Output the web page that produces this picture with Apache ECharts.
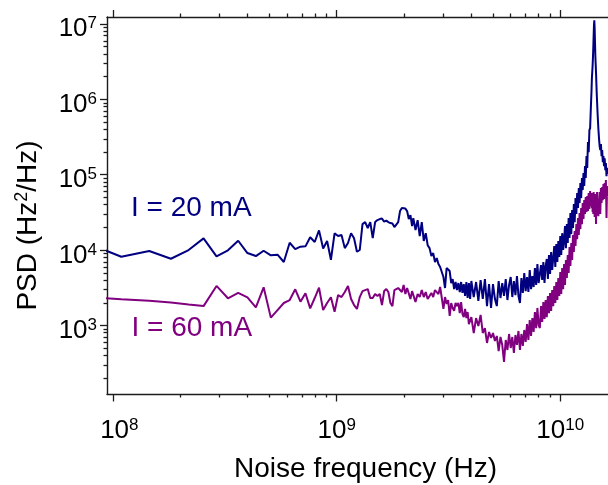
<!DOCTYPE html>
<html>
<head>
<meta charset="utf-8">
<script src="https://cdn.jsdelivr.net/npm/echarts@6/dist/echarts.min.js"></script>
<style>
html,body{margin:0;padding:0;background:#ffffff;}
#chart{width:608px;height:485px;}
</style>
</head>
<body>
<div id="chart"></div>
<script>
// ---------------- data ----------------
// noise frequency, GHz
const freqGHz = [
  0.0724, 0.1086, 0.1448, 0.181, 0.2172, 0.2534, 0.2896, 0.3258, 0.362, 0.3982,
  0.4344, 0.4706, 0.5068, 0.543, 0.5792, 0.6154, 0.6516, 0.6878, 0.724, 0.7602,
  0.7964, 0.8326, 0.8688, 0.905, 0.9412, 0.9774, 1.0136,
  1.0498, 1.086, 1.1222, 1.1584, 1.1946, 1.2308, 1.267, 1.3032, 1.3394, 1.3756,
  1.4118, 1.448, 1.4842, 1.5204, 1.5566, 1.5928, 1.629, 1.6652, 1.7014, 1.7376,
  1.7738, 1.81, 1.8462, 1.8824, 1.9186, 1.9548, 1.991, 2.0272, 2.0634, 2.0996,
  2.1358, 2.172,
  2.20, 2.25, 2.30, 2.35, 2.40, 2.45, 2.50, 2.55, 2.60, 2.65, 2.70, 2.75, 2.80,
  2.85, 2.90, 2.95, 3.00, 3.05, 3.10, 3.15, 3.20, 3.25, 3.30, 3.35, 3.40, 3.45,
  3.50, 3.55, 3.60, 3.65, 3.70, 3.75, 3.80, 3.85, 3.90, 3.95, 4.00,
  4.1, 4.2, 4.3, 4.4, 4.5, 4.6, 4.7, 4.8, 4.9, 5.0, 5.1, 5.2, 5.3, 5.4, 5.5,
  5.6, 5.7, 5.8, 5.9, 6.0, 6.1, 6.2, 6.3, 6.4, 6.5, 6.6, 6.7, 6.8, 6.9, 7.0,
  7.1, 7.2, 7.3, 7.4, 7.5, 7.6, 7.7, 7.8, 7.9, 8.0,
  8.1, 8.2, 8.3, 8.4, 8.5, 8.6, 8.7, 8.8, 8.9, 9.0, 9.1, 9.2, 9.3, 9.4, 9.5,
  9.6, 9.7, 9.8, 9.9, 10.0, 10.1, 10.2, 10.3, 10.4, 10.5, 10.6, 10.7, 10.8,
  10.9, 11.0, 11.1, 11.2, 11.3, 11.4, 11.5, 11.6, 11.7, 11.8, 11.9, 12.0, 12.1,
  12.2, 12.3, 12.4, 12.5, 12.6, 12.7, 12.8, 12.9, 13.0, 13.1, 13.2, 13.3, 13.4,
  13.5, 13.6, 13.7, 13.8,
  13.85, 13.9, 13.95, 14.0, 14.05, 14.1, 14.15, 14.2, 14.25, 14.3, 14.35, 14.4,
  14.45, 14.5, 14.55, 14.6,
  14.7, 14.8, 14.9, 15.0, 15.1, 15.2, 15.3, 15.4, 15.5, 15.6, 15.7, 15.8, 15.9,
  16.0, 16.1, 16.2, 16.3
];

// PSD (Hz^2/Hz), I = 20 mA
const psd20mA = [
  13300, 8220, 9790, 7740, 10090, 14400, 8320, 10000, 13400, 9210,
  8400, 9880, 8590, 8750, 7000, 12600, 10400, 11200, 11300, 14900,
  12900, 18400, 10600, 13300, 7500, 16800, 15500,
  16000, 10700, 12500, 16900, 14500, 9580, 10100, 22300, 23700, 19800,
  23700, 14500, 23700, 25200, 26000, 26400, 24100, 24800, 23700, 23000,
  22700, 20400, 21000, 23700, 33200, 36400, 37500, 35800, 33200, 26000,
  29400, 21000,
  26800, 18600, 25200, 15500, 23700, 13300, 16900, 11700, 10700, 8400, 9200, 7000, 7900,
  6580, 6000, 5150, 4420, 3160, 5820, 6000, 5310, 3680, 4160, 3060, 3800, 2970,
  3680, 2800, 3800, 2720, 3570, 2480, 3800, 2330, 3680, 2260, 3920,
  2400, 3800, 2130, 4040, 2260, 4160, 1820, 3570, 1720, 3570, 2260, 1820, 3920, 2330, 3680,
  2480, 4160, 2190, 3470, 4420, 2400, 3920, 2550, 4560, 2480, 2000, 4290, 2720, 5000, 2880,
  4420, 2800, 5480, 3060, 4560, 3260, 5820, 3470, 6580, 3680,
  3470, 6380, 4040, 7000, 3680, 6190, 7680, 4160, 8670, 4850, 9510, 5480, 7910, 11400, 6000,
  12100, 7000, 13300, 8150, 15500, 8670, 16900, 10100, 13700, 21000, 10700, 22300, 12500,
  26800, 14600, 31200, 16400, 34300, 19800, 41200, 23700, 49400, 30300, 57600, 36400, 67000,
  42400, 78100, 49400, 91000, 63100, 106000, 71300, 131000, 91000, 178000, 124000, 274000, 201000,
  394000, 419000, 772000, 1340000,
  1930000, 2320000, 2790000, 3560000, 4830000, 6970000, 9750000, 11300000, 8870000, 5780000, 3890000, 2960000,
  2320000, 1710000, 1260000, 984000,
  622000, 419000, 309000, 242000, 214000, 258000, 178000, 214000, 148000, 178000, 131000, 167000, 116000,
  144000, 96600, 124000, 103000
];

// PSD (Hz^2/Hz), I = 60 mA
const psd60mA = [
  2440, 2240, 2150, 2030, 1910, 1820, 3370, 2310, 2720, 2380,
  1750, 3230, 1280, 1610, 2000, 2190, 3040, 2080, 2690, 1700,
  2330, 3190, 1610, 2000, 2380, 1530, 2550,
  2400, 2800, 3360, 2260, 1880, 1670, 2400, 2880, 2970, 3060,
  2330, 2330, 2630, 2480, 2630, 1880, 2880, 3060, 2800, 2000,
  1820, 2970, 2800, 3160, 3260, 2800, 3470, 2630, 3160, 3260,
  2260, 2880,
  2800, 2060, 2630, 2400, 2970, 2400, 2800, 2260, 2480, 2720, 2400, 2970, 3060,
  2630, 3260, 2330, 1670, 2400, 1940, 2190, 1350, 2000, 1720, 1570, 2000, 1820,
  2000, 1470, 2060, 1430, 1300, 1670, 1260, 1520, 1050, 990, 1300,
  800, 1260, 990, 1390, 800, 930, 590, 824, 687, 800, 627, 730, 461, 708, 555,
  330, 646, 476, 776, 506, 708, 434, 753, 555, 851, 476, 776, 538, 877, 608,
  1050, 646, 1190, 730, 1260, 824, 1520, 930, 1720, 1020,
  930, 1820, 1120, 2060, 1230, 2190, 1300, 2480, 1470, 2720, 1570, 2970, 1820, 3360, 2000,
  3800, 2190, 4290, 2480, 5150, 2630, 5820, 3060, 6580, 3470, 7430, 4290, 8670,
  5000, 11100, 6190, 12500, 7430, 16000, 9490, 18000, 11400, 22300, 14100, 26800, 16000,
  31200, 19100, 36400, 22300, 42400, 26000, 46400, 30300, 50900, 32200, 52500, 33200, 57600,
  35300, 61100, 38700, 54100,
  36400, 57600, 32200, 49400, 30300, 59300, 39900, 52500, 27700, 55800, 35300, 47900,
  22300, 54100, 34300, 59300,
  32200, 28500, 38700, 59300, 30300, 67000, 42400, 69200, 46400, 75700, 47900, 78100, 54100,
  85600, 26800, 71300, 52500
];

const seriesNames = ['I = 20 mA', 'I = 60 mA'];

// axis ranges and tick values
const xRange = [9.37e7, 1.635e10];
const yRange = [124, 1.25e7];
const xMajorTicks = [1e8, 1e9, 1e10];
const xMinorTicks = [2e8, 3e8, 4e8, 5e8, 6e8, 7e8, 8e8, 9e8,
                     2e9, 3e9, 4e9, 5e9, 6e9, 7e9, 8e9, 9e9];
const yMajorTicks = [1e3, 1e4, 1e5, 1e6, 1e7];
const yMinorTicks = [200, 300, 400, 500, 600, 700, 800, 900,
                     2e3, 3e3, 4e3, 5e3, 6e3, 7e3, 8e3, 9e3,
                     2e4, 3e4, 4e4, 5e4, 6e4, 7e4, 8e4, 9e4,
                     2e5, 3e5, 4e5, 5e5, 6e5, 7e5, 8e5, 9e5,
                     2e6, 3e6, 4e6, 5e6, 6e6, 7e6, 8e6, 9e6];

// ---------------- chart ----------------
const FONT = '"Liberation Sans", Arial, Helvetica, sans-serif';
const INK = '#000000';
const AXIS_COLOR = '#1c1c1c';
const NAVY = '#000080';
const PURPLE = '#800080';

function isPow10(v) {
  const l = Math.log10(v);
  return Math.abs(l - Math.round(l)) < 1e-6;
}
function expLabel(v) {
  if (!isPow10(v)) return '';
  const e = Math.round(Math.log10(v));
  return (e === 8 ? '{bp|10}' : '{b|10}') + '{s|' + e + '}';
}
const labelRich = {
  b:  { fontSize: 26, lineHeight: 28, fontFamily: FONT, color: INK },
  bp: { fontSize: 26, lineHeight: 28, fontFamily: FONT, color: INK, padding: [0, 0, 0, 12] },
  s:  { fontSize: 17, lineHeight: 14, verticalAlign: 'top', fontFamily: FONT, color: INK }
};

function baseAxis(extra) {
  return Object.assign({
    type: 'log',
    logBase: 10,
    splitLine: { show: false },
    minorTick: { show: false },
    minorSplitLine: { show: false },
    axisTick: { show: false },
    axisPointer: { show: false },
    silent: true
  }, extra);
}
const lineStyle = { color: AXIS_COLOR, width: 1.4 };

const xAxes = [
  baseAxis({
    position: 'bottom', min: xRange[0], max: xRange[1],
    axisLine: { show: true, lineStyle: lineStyle },
    axisLabel: { show: true, margin: 23, formatter: expLabel, rich: labelRich, hideOverlap: false },
    name: 'Noise frequency (Hz)', nameLocation: 'middle', nameGap: 61,
    nameTextStyle: { fontSize: 28, fontFamily: FONT, color: INK, padding: [0, 0, 0, 16] }
  }),
  baseAxis({
    position: 'top', min: xRange[0], max: xRange[1],
    axisLine: { show: true, lineStyle: lineStyle },
    axisLabel: { show: false }
  })
];

const yAxes = [
  baseAxis({
    position: 'left', min: yRange[0], max: yRange[1],
    axisLine: { show: true, lineStyle: lineStyle },
    axisLabel: { show: true, margin: 10, formatter: expLabel, rich: labelRich, padding: [10, 0, 0, 0] },
    name: '{t|PSD (Hz}{s|2}{t|/Hz)}', nameLocation: 'middle', nameGap: 64, nameRotate: 90,
    nameTextStyle: {
      padding: [0, 40, 0, 0],
      rich: {
        t: { fontSize: 28, lineHeight: 30, fontFamily: FONT, color: INK },
        s: { fontSize: 18, lineHeight: 16, verticalAlign: 'top', fontFamily: FONT, color: INK }
      }
    }
  })
];

function pairs(values) {
  return freqGHz.map(function (f, i) { return [f * 1e9, values[i]]; });
}

const labelGraphics = [
  { type: 'text', x: 131, y: 208.5, silent: true, z: 10,
    style: { text: seriesNames[0], fill: NAVY, font: '28px ' + FONT, textAlign: 'left', verticalAlign: 'middle' } },
  { type: 'text', x: 131.5, y: 328.3, silent: true, z: 10,
    style: { text: seriesNames[1], fill: PURPLE, font: '28px ' + FONT, textAlign: 'left', verticalAlign: 'middle' } }
];

const chart = echarts.init(document.getElementById('chart'), null, { renderer: 'canvas' });
chart.setOption({
  animation: false,
  backgroundColor: '#ffffff',
  grid: { left: 107, right: 0, top: 17, bottom: 91, containLabel: false, outerBoundsMode: 'none' },
  xAxis: xAxes,
  yAxis: yAxes,
  tooltip: { show: false },
  series: [
    {
      name: seriesNames[0], type: 'line', xAxisIndex: 0, yAxisIndex: 0,
      data: pairs(psd20mA), showSymbol: false, symbol: 'none', clip: true, silent: true,
      lineStyle: { color: NAVY, width: 2 }, itemStyle: { color: NAVY },
      emphasis: { disabled: true }
    },
    {
      name: seriesNames[1], type: 'line', xAxisIndex: 0, yAxisIndex: 0,
      data: pairs(psd60mA), showSymbol: false, symbol: 'none', clip: true, silent: true,
      lineStyle: { color: PURPLE, width: 2 }, itemStyle: { color: PURPLE },
      emphasis: { disabled: true }
    }
  ],
  graphic: labelGraphics
});

// tick marks placed through the axes' own log scales
function tickSegment(x1, y1, x2, y2) {
  return { type: 'line', silent: true, z: 5,
           shape: { x1: x1, y1: y1, x2: x2, y2: y2 },
           style: { stroke: AXIS_COLOR, lineWidth: 1.3 } };
}
function snap(v) { return Math.round(v - 0.5) + 0.5; }
const yBottom = chart.convertToPixel({ yAxisIndex: 0 }, yRange[0]);
const yTop = chart.convertToPixel({ yAxisIndex: 0 }, yRange[1]);
const xLeft = chart.convertToPixel({ xAxisIndex: 0 }, xRange[0]);
const ticks = [];
xMajorTicks.forEach(function (v) {
  const x = snap(chart.convertToPixel({ xAxisIndex: 0 }, v));
  ticks.push(tickSegment(x, yBottom, x, yBottom + 7.5));
  ticks.push(tickSegment(x, yTop, x, yTop - 7));
});
xMinorTicks.forEach(function (v) {
  const x = snap(chart.convertToPixel({ xAxisIndex: 0 }, v));
  ticks.push(tickSegment(x, yBottom, x, yBottom + 3.5));
  ticks.push(tickSegment(x, yTop, x, yTop - 3.5));
});
yMajorTicks.forEach(function (v) {
  const y = snap(chart.convertToPixel({ yAxisIndex: 0 }, v));
  ticks.push(tickSegment(xLeft, y, xLeft - 7, y));
});
yMinorTicks.forEach(function (v) {
  const y = snap(chart.convertToPixel({ yAxisIndex: 0 }, v));
  ticks.push(tickSegment(xLeft, y, xLeft - 3.5, y));
});
chart.setOption({ graphic: labelGraphics.concat(ticks) }, { replaceMerge: ['graphic'] });
</script>
</body>
</html>
